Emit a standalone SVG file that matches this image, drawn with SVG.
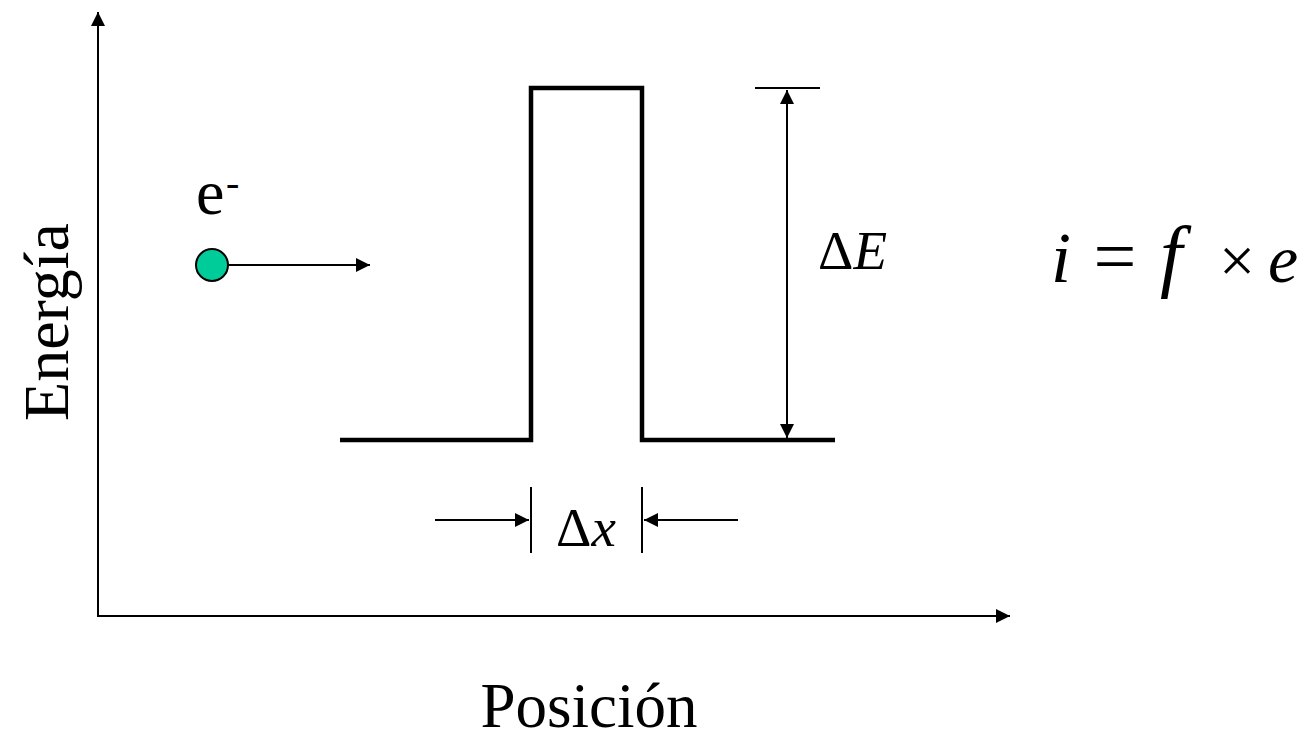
<svg xmlns="http://www.w3.org/2000/svg" width="1309" height="740" viewBox="0 0 1309 740">
<style>
text{font-family:"Liberation Serif","Times New Roman","DejaVu Serif",serif;fill:#000}
.it{font-style:italic}
.thin{stroke:#000;stroke-width:2;fill:none}
.thick{stroke:#000;stroke-width:4.5;fill:none}
</style>
<defs>
<marker id="ah" viewBox="0 0 10 10" refX="10" refY="5" markerWidth="14" markerHeight="14" markerUnits="userSpaceOnUse" orient="auto-start-reverse">
<path d="M0,0 L10,5 L0,10 z" fill="#000"/>
</marker>
</defs>
<rect width="1309" height="740" fill="#fff"/>
<g id="connectors">
<line class="thin" x1="98" y1="616" x2="98" y2="12" marker-end="url(#ah)"/>
<line class="thin" x1="97" y1="616" x2="1010" y2="616" marker-end="url(#ah)"/>
<line class="thin" x1="228" y1="265" x2="370" y2="265" marker-end="url(#ah)"/>
<line class="thin" x1="787" y1="90" x2="787" y2="438" marker-start="url(#ah)" marker-end="url(#ah)"/>
<line class="thin" x1="755" y1="88" x2="820" y2="88"/>
<line class="thin" x1="435" y1="520" x2="529" y2="520" marker-end="url(#ah)"/>
<line class="thin" x1="738" y1="520" x2="644" y2="520" marker-end="url(#ah)"/>
<line class="thin" x1="531" y1="487" x2="531" y2="553"/>
<line class="thin" x1="642" y1="487" x2="642" y2="553"/>
</g>
<g id="barrier">
<polyline class="thick" points="340,440 531,440 531,88 642,88 642,440 835,440"/>
</g>
<g id="electron">
<circle cx="212" cy="265" r="16" fill="#00CC99" stroke="#000" stroke-width="2"/>
<text x="196" y="214" font-size="64">e</text>
<text x="226" y="196" font-size="40">-</text>
</g>
<g id="labels">
<text font-size="64" text-anchor="middle" transform="translate(68,322) rotate(-90)">Energía</text>
<text font-size="63" x="589" y="727" text-anchor="middle">Posición</text>
<text font-size="55" x="818" y="269">Δ<tspan class="it">E</tspan></text>
<text font-size="55" x="556" y="546">Δ<tspan class="it">x</tspan></text>
<text font-size="72" x="1051" y="282" class="it">i</text>
<text font-size="76" x="1115" y="282" text-anchor="middle">=</text>
<text font-size="80" x="1160" y="282" class="it">f</text>
<text font-size="64" x="1237" y="282" text-anchor="middle">×</text>
<text font-size="68" x="1268" y="282" class="it">e</text>
</g>
</svg>
